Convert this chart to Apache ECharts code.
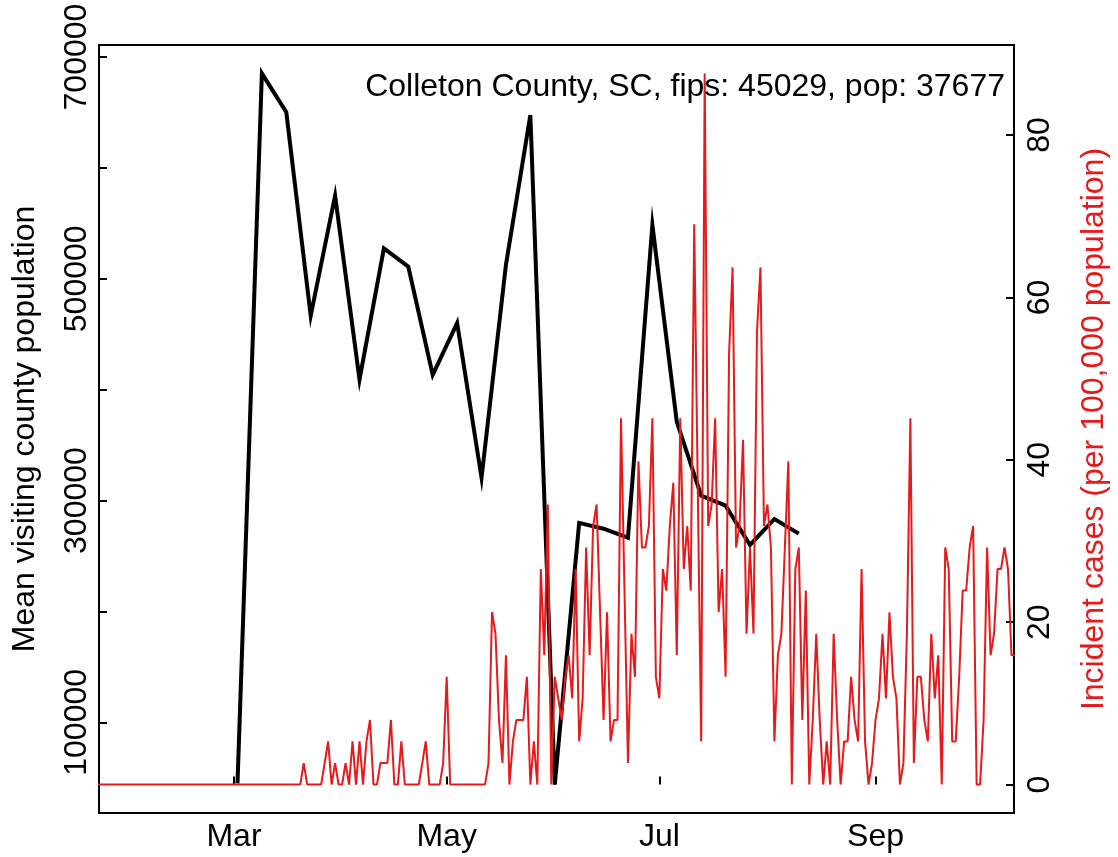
<!DOCTYPE html>
<html>
<head>
<meta charset="utf-8">
<script src="https://cdn.jsdelivr.net/npm/echarts@6/dist/echarts.min.js"></script>
<style>html,body{margin:0;padding:0;background:#fff}#c{width:1118px;height:857px}</style>
</head>
<body>
<div id="c"></div>
<script>
// ---------- data ----------
const countyLabel = 'Colleton County, SC, fips: 45029, pop: 37677';
const xTickDates = ['2020-03-01', '2020-05-01', '2020-07-01', '2020-09-01'];
const xTickLabels = ['Mar', 'May', 'Jul', 'Sep'];
const leftTicks = [100000, 200000, 300000, 400000, 500000, 600000, 700000];
const leftLabels = [100000, 300000, 500000, 700000];
const rightTicks = [0, 20, 40, 60, 80];

// weekly mean visiting population (black)
const visitDates = ['2020-03-02','2020-03-09','2020-03-16','2020-03-23','2020-03-30','2020-04-06','2020-04-13','2020-04-20','2020-04-27','2020-05-04','2020-05-11','2020-05-18','2020-05-25','2020-06-01','2020-06-08','2020-06-15','2020-06-22','2020-06-29','2020-07-06','2020-07-13','2020-07-20','2020-07-27','2020-08-03','2020-08-10'];
const visitValues = [45000, 685200, 650200, 466700, 575000, 409200, 527500, 510900, 413400, 460100, 320600, 512600, 647700, 43900, 279900, 274600, 266600, 548500, 371000, 304400, 295400, 260000, 283400, 270200];

// daily incident cases per 100,000 (red), starting 2020-01-22
const caseStart = '2020-01-22';
const casesJan = [0,0,0,0,0,0,0,0,0,0];
const casesFeb = [0,0,0,0,0,0,0,0,0,0,0,0,0,0,0,0,0,0,0,0,0,0,0,0,0,0,0,0,0];
const casesMar = [0,0,0,0,0,0,0,0,0,0,0,0,0,0,0,0,0,0,0,0,2.65,0,0,0,0,0,2.65,5.31,0,2.65,0];
const casesApr = [0,2.65,0,5.31,0,5.31,0,5.31,7.96,0,0,2.65,2.65,2.65,7.96,0,0,5.31,0,0,0,0,0,2.65,5.31,0,0,0,0,2.65];
const casesMay = [13.27,0,0,0,0,0,0,0,0,0,0,0,2.65,21.23,18.58,7.96,2.65,15.92,0,5.31,7.96,7.96,7.96,13.27,0,5.31,0,26.54,15.92,34.5,0];
const casesJun = [13.27,10.62,7.96,13.27,15.92,10.62,26.54,5.31,10.62,29.2,15.92,31.85,34.5,21.23,7.96,21.23,5.31,7.96,7.96,45.12,23.89,2.65,18.58,13.27,39.81,29.2,29.2,31.85,45.12,13.27];
const casesJul = [10.62,26.54,23.89,31.85,37.16,15.92,45.12,26.54,31.85,23.89,69.01,37.16,5.31,87.59,31.85,34.5,45.12,21.23,26.54,13.27,53.08,63.7,29.2,31.85,42.47,18.58,29.2,18.58,55.74,63.7,31.85];
const casesAug = [34.5,29.2,5.31,15.92,18.58,29.2,39.81,0,26.54,29.2,7.96,23.89,0,7.96,18.58,7.96,0,5.31,0,18.58,7.96,0,5.31,5.31,13.27,7.96,5.31,26.54,5.31,0,2.65];
const casesSep = [7.96,10.62,18.58,10.62,21.23,13.27,10.62,0,2.65,18.58,45.12,2.65,13.27,13.27,7.96,5.31,18.58,10.62,15.92,0,29.2,26.54,5.31,5.31,13.27,23.89,23.89,29.2,31.85,0];
const casesOct = [0,7.96,29.2,15.92,18.58,26.54,26.54,29.2,26.54,15.92,15.92];

// ---------- build ----------
const DAY = 86400000;
const ts = s => Date.parse(s + 'T00:00:00Z');
const allCases = [].concat(casesJan, casesFeb, casesMar, casesApr, casesMay, casesJun, casesJul, casesAug, casesSep, casesOct);
const caseData = allCases.map((v, i) => [ts(caseStart) + i * DAY, v]);
const visitData = visitDates.map((d, i) => [ts(d), visitValues[i]]);

const xLo = ts('2020-02-01'), xHi = ts('2020-10-01');
const xPad = (xHi - xLo) * 0.04;
const vMin = Math.min(...visitValues), vMax = Math.max(...visitValues);
const vPad = (vMax - vMin) * 0.04;
const cMax = Math.max(...allCases);
const cPad = cMax * 0.04;

const FONT = '"Liberation Sans", Arial, Helvetica, sans-serif';
const FS = 32;
const xTickTs = xTickDates.map(ts);

const chart = echarts.init(document.getElementById('c'), null, {renderer: 'canvas', width: 1118, height: 857});
chart.setOption({
  animation: false,
  backgroundColor: '#fff',
  textStyle: {fontFamily: FONT},
  grid: {left: 99, right: 98, top: 45, bottom: 44, show: true, borderColor: '#000', borderWidth: 2, backgroundColor: 'transparent'},
  xAxis: {
    type: 'value', min: xLo - xPad, max: xHi + xPad,
    splitLine: {show: false},
    axisLine: {show: false},
    axisTick: {show: true, inside: true, length: 8, lineStyle: {color: '#000', width: 2}, customValues: xTickTs},
    axisLabel: {show: true, customValues: xTickTs, color: '#000', fontSize: FS, fontFamily: FONT, margin: 8,
      formatter: v => xTickLabels[xTickTs.indexOf(v)]}
  },
  yAxis: [{
    type: 'value', position: 'left', min: vMin - vPad, max: vMax + vPad,
    splitLine: {show: false},
    axisLine: {show: false},
    axisTick: {show: true, inside: true, length: 8, lineStyle: {color: '#000', width: 2}, customValues: leftTicks},
    axisLabel: {show: true, customValues: leftLabels, rotate: 90, color: '#000', fontSize: FS, fontFamily: FONT, margin: 6,
      formatter: v => String(v)},
    name: 'Mean visiting county population', nameLocation: 'middle', nameRotate: 90, nameGap: 58,
    nameTextStyle: {color: '#000', fontSize: FS, fontFamily: FONT}
  }, {
    type: 'value', position: 'right', min: -cPad, max: cMax + cPad,
    splitLine: {show: false},
    axisLine: {show: false},
    axisTick: {show: true, inside: true, length: 8, lineStyle: {color: '#000', width: 2}, customValues: rightTicks},
    axisLabel: {show: true, customValues: rightTicks, rotate: 90, color: '#000', fontSize: FS, fontFamily: FONT, margin: 10,
      formatter: v => String(v)},
    name: 'Incident cases (per 100,000 population)', nameLocation: 'middle', nameRotate: 90, nameGap: 64,
    nameTextStyle: {color: '#E41A1C', fontSize: FS, fontFamily: FONT}
  }],
  graphic: [{
    type: 'text', x: 1005, y: 87, z: 100,
    style: {text: countyLabel, fill: '#000', font: FS + 'px ' + FONT, textAlign: 'right', textVerticalAlign: 'middle'}
  }],
  series: [{
    type: 'line', yAxisIndex: 0, data: visitData, symbol: 'none', clip: true,
    lineStyle: {color: '#000', width: 4, join: 'miter'}, z: 2
  }, {
    type: 'line', yAxisIndex: 1, data: caseData, symbol: 'none', clip: true,
    lineStyle: {color: '#E41A1C', width: 2}, z: 3
  }]
});
</script>
</body>
</html>
